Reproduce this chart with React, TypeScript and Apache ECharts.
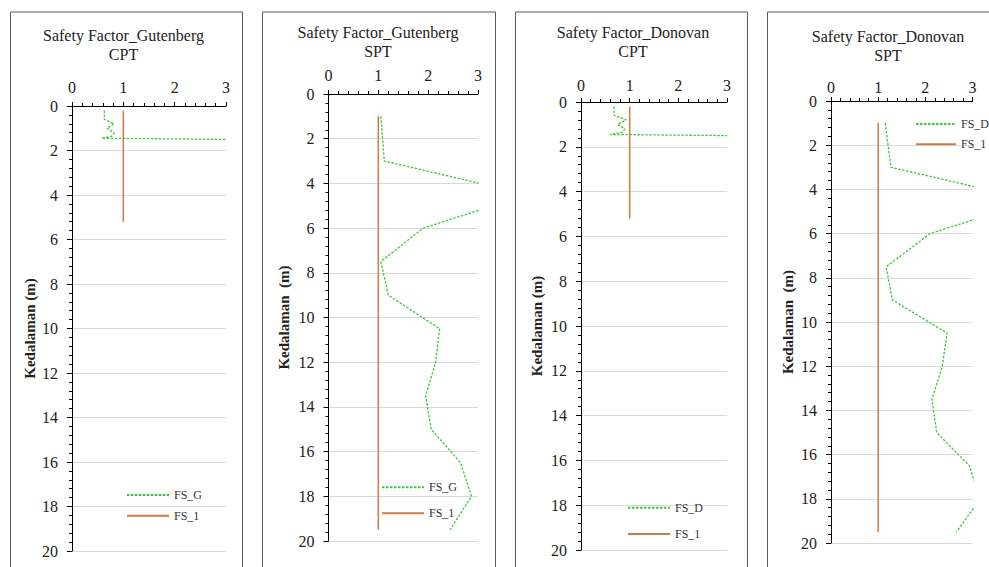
import React, { useEffect, useRef } from "react";
import * as echarts from "echarts";

// ---- data ----
const xTicks = [0, 1, 2, 3];
const depthTicks = [0, 2, 4, 6, 8, 10, 12, 14, 16, 18, 20];

// CPT Gutenberg
const cptDepths = [0.2, 0.6, 0.8, 1.0, 1.2, 1.35, 1.45, 1.5];
const fsGutenbergCPT = [0.63, 0.63, 0.82, 0.68, 0.82, 0.78, 0.58, 3.0];
// CPT Donovan
const fsDonovanCPT = [0.68, 0.68, 0.93, 0.75, 0.9, 0.85, 0.6, 3.0];
// FS_1 reference line (CPT)
const fs1CPTDepths = [0.2, 5.2];
const fs1CPTValues = [1, 1];

// SPT
const sptDepths = [1, 3, 4.5, 6, 7.5, 9, 10.5, 12, 13.5, 15, 16.5, 18, 19.5];
const fsGutenbergSPT = [1.05, 1.12, 4.0, 1.9, 1.05, 1.2, 2.23, 2.15, 1.95, 2.06, 2.65, 2.87, 2.44];
const fsDonovanSPT = [1.15, 1.27, 4.3, 2.1, 1.17, 1.3, 2.46, 2.36, 2.14, 2.24, 2.93, 3.17, 2.66];
const fs1SPTValues = [1, 1, 1, 1, 1, 1, 1, 1, 1, 1, 1, 1, 1];

const titles = [
  "Safety Factor_Gutenberg\nCPT",
  "Safety Factor_Gutenberg\nSPT",
  "Safety Factor_Donovan\nCPT",
  "Safety Factor_Donovan\nSPT",
];
const yAxisNames = ["Kedalaman (m)", "Kedalaman  (m)", "Kedalaman (m)", "Kedalaman  (m)"];

const pair = (xs: number[], ds: number[]) => ds.map((d, i) => [xs[i], d]);

const FONT = "Liberation Serif";
const GREEN = "#3cc83c";
const ORANGE = "#d07a42";

export default function App() {
  const ref = useRef<HTMLDivElement>(null);
  useEffect(() => {
    if (!ref.current) return;
    const chart = echarts.init(ref.current, undefined, { renderer: "svg" });

    const grids = [
      { left: 72, top: 106, width: 154, height: 445 },
      { left: 328.5, top: 94, width: 149.5, height: 447 },
      { left: 581, top: 102, width: 146, height: 448 },
      { left: 831, top: 101, width: 141.5, height: 442 },
    ];
    const nameGaps = [34.5, 37, 36.5, 35.5];
    const xLabelMargins = [11, 11, 9, 6];
    const titlePos = [
      { x: 123.5, y: 26 },
      { x: 378, y: 23 },
      { x: 633, y: 22.5 },
      { x: 888, y: 26.5 },
    ];
    const borders = [
      { x: 10, w: 232 },
      { x: 262, w: 233 },
      { x: 515, w: 232 },
      { x: 767, w: 300 },
    ];
    const legends = [
      { left: 126, top: 489, gap: 8.7, w: 42, names: ["FS_G", "FS_1"] },
      { left: 381, top: 481.3, gap: 14, w: 42, names: ["FS_G", "FS_1"] },
      { left: 627, top: 501.7, gap: 14.3, w: 42, names: ["FS_D", "FS_1"] },
      { left: 915, top: 118, gap: 8.3, w: 40, names: ["FS_D", "FS_1"] },
    ];

    const xAxes = grids.map((_, i) => ({
      type: "value",
      gridIndex: i,
      position: "top",
      min: 0,
      max: 3,
      interval: 1,
      axisLine: { show: true, onZero: false, lineStyle: { color: "#000", width: 1 } },
      axisTick: { show: true, inside: false, length: 4, lineStyle: { color: "#000" } },
      minorTick: { show: true, splitNumber: 5, length: 3, lineStyle: { color: "#000" } },
      axisLabel: {
        margin: xLabelMargins[i],
        fontFamily: FONT,
        fontSize: 16,
        color: "#222",
        formatter: (v: number) => (xTicks.includes(v) ? String(v) : ""),
      },
      splitLine: { show: false },
    }));

    const yAxes = grids.map((_, i) => ({
      type: "value",
      gridIndex: i,
      inverse: true,
      min: 0,
      max: 20,
      interval: 2,
      name: yAxisNames[i],
      nameLocation: "middle",
      nameRotate: 90,
      nameGap: nameGaps[i],
      nameTextStyle: { fontFamily: FONT, fontSize: 15, fontWeight: "bold", color: "#222" },
      axisLine: { show: true, onZero: false, lineStyle: { color: "#000", width: 1 } },
      axisTick: { show: true, inside: false, length: 5, lineStyle: { color: "#000" } },
      minorTick: { show: true, splitNumber: 5, length: 3, lineStyle: { color: "#000" } },
      axisLabel: {
        margin: 14,
        fontFamily: FONT,
        fontSize: 16,
        color: "#222",
        formatter: (v: number) => (depthTicks.includes(v) ? String(v) : ""),
      },
      splitLine: { show: true, lineStyle: { color: "#d9d9d9", width: 1 } },
    }));

    const dashed = { color: GREEN, width: 1.3, type: [2.5, 1.5] };
    const solid = { color: ORANGE, width: 1.5, type: "solid" };
    const mk = (name: string, idx: number, data: number[][], ls: any) => ({
      name,
      type: "line",
      xAxisIndex: idx,
      yAxisIndex: idx,
      data,
      showSymbol: false,
      symbol: "none",
      clip: true,
      color: ls.color,
      lineStyle: ls,
    });

    const series = [
      mk("FS_G", 0, pair(fsGutenbergCPT, cptDepths), dashed),
      mk("FS_1", 0, pair(fs1CPTValues, fs1CPTDepths), solid),
      mk("FS_G", 1, pair(fsGutenbergSPT, sptDepths), dashed),
      mk("FS_1", 1, pair(fs1SPTValues, sptDepths), solid),
      mk("FS_D", 2, pair(fsDonovanCPT, cptDepths), dashed),
      mk("FS_1", 2, pair(fs1CPTValues, fs1CPTDepths), solid),
      mk("FS_D", 3, pair(fsDonovanSPT, sptDepths), dashed),
      mk("FS_1", 3, pair(fs1SPTValues, sptDepths), solid),
    ];

    chart.setOption({
      animation: false,
      backgroundColor: "#fff",
      title: titles.map((t, i) => ({
        text: t,
        left: titlePos[i].x,
        top: titlePos[i].y,
        textAlign: "center",
        padding: 0,
        textStyle: {
          fontFamily: FONT,
          fontSize: 16,
          fontWeight: "normal",
          color: "#222",
          lineHeight: 19,
        },
      })),
      legend: legends.map((l) => ({
        data: l.names,
        orient: "vertical",
        left: l.left,
        top: l.top,
        padding: 0,
        itemGap: l.gap,
        itemWidth: l.w,
        itemHeight: 12,
        selectedMode: false,
        itemStyle: { opacity: 0 },
        textStyle: { fontFamily: FONT, fontSize: 12, color: "#333", lineHeight: 12 },
      })),
      grid: grids.map((g) => ({ ...g, containLabel: false })),
      xAxis: xAxes,
      yAxis: yAxes,
      series,
      graphic: borders.map((b) => ({
        type: "rect",
        shape: { x: b.x + 0.5, y: 12, width: b.w, height: 600 },
        style: { fill: "none", stroke: "#595959", lineWidth: 1 },
        silent: true,
        z: -1,
      })),
    });

    return () => chart.dispose();
  }, []);

  return (
    <div
      ref={ref}
      style={{ position: "fixed", left: 0, top: 0, width: 989, height: 567, background: "#fff" }}
    />
  );
}
